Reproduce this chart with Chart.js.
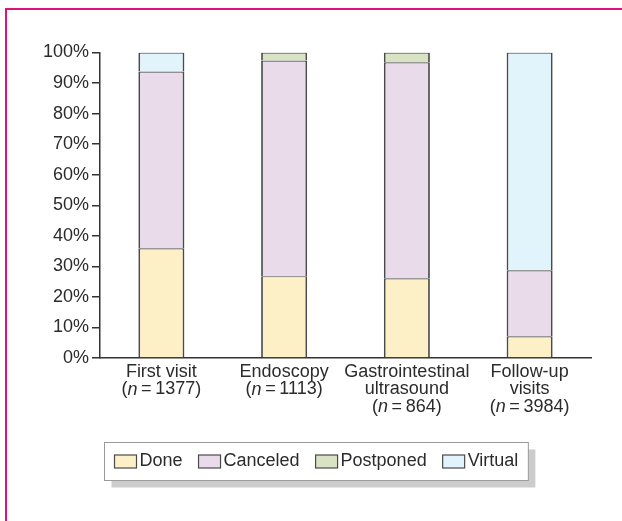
<!DOCTYPE html>
<html>
<head>
<meta charset="utf-8">
<script src="https://cdn.jsdelivr.net/npm/chart.js@4.4.1/dist/chart.umd.min.js"></script>
<style>
  html, body { margin: 0; padding: 0; background: #fff; }
  #frame {
    position: absolute; left: 5px; top: 8px; width: 617px; height: 513px;
    border-left: 2px solid #e0127a; border-top: 2px solid #e0127a; box-sizing: border-box;
  }
  #wrap { position: absolute; left: 0; top: 0; width: 622px; height: 521px; }
</style>
</head>
<body>
<div id="frame"></div>
<div id="wrap"><canvas id="chart"></canvas></div>
<script>
// categories (name lines) and sample sizes shown under each bar
const categories = [['First visit'], ['Endoscopy'], ['Gastrointestinal', 'ultrasound'], ['Follow-up', 'visits']];
const sampleSizes = [1377, 1113, 864, 3984];

// share of appointments, percent
const seriesNames = ['Done', 'Canceled', 'Postponed', 'Virtual'];
const done      = [35.9, 26.8, 26.1, 7.1];
const canceled  = [57.9, 70.6, 70.7, 21.6];
const postponed = [0, 2.6, 3.2, 0];
const virtual   = [6.2, 0, 0, 71.3];

const yMin = 0, yMax = 100, yStep = 10;

const fills = ['#fdefc6', '#e9dbea', '#d7e3c2', '#e1f3fb'];
const ink = '#2b2b2b';
const FONT = '"Liberation Sans", Arial, Helvetica, sans-serif';

Chart.defaults.font.family = FONT;
Chart.defaults.font.size = 18;
Chart.defaults.color = ink;

// category labels with an italic "n"
const xLabels = {
    id: 'xLabels',
    afterDraw(chart) {
        const xs = chart.scales.x;
        const ctx = chart.ctx;
        ctx.save();
        ctx.fillStyle = ink;
        ctx.textBaseline = 'middle';
        ctx.textAlign = 'left';
        categories.forEach((lines, i) => {
            const px = xs.getPixelForValue(i);
            const rows = lines.map(t => [{ t, it: false }]);
            rows.push([{ t: '(', it: false }, { t: 'n', it: true }, { t: '\u2009=\u2009' + sampleSizes[i] + ')', it: false }]);
            rows.forEach((segs, r) => {
                const y = xs.top + 14 + r * 17.5;
                let total = 0;
                segs.forEach(s => {
                    ctx.font = (s.it ? 'italic ' : '') + '18px ' + FONT;
                    s.w = ctx.measureText(s.t).width;
                    total += s.w;
                });
                let x = px - total / 2;
                segs.forEach(s => {
                    ctx.font = (s.it ? 'italic ' : '') + '18px ' + FONT;
                    ctx.fillText(s.t, x, y);
                    x += s.w;
                });
            });
        });
        ctx.restore();
    }
};

// boxed legend with a drop shadow
const boxLegend = {
    id: 'boxLegend',
    afterDraw(chart) {
        const ctx = chart.ctx;
        ctx.save();
        ctx.font = '18px ' + FONT;
        const sw = 22, sh = 13, gapText = 3, gapItem = 16, padX = 10;
        const items = chart.data.datasets.map(ds => ({
            label: ds.label, fill: ds.backgroundColor, w: ctx.measureText(ds.label).width
        }));
        const inner = items.reduce((s, it) => s + sw + gapText + it.w, 0) + gapItem * (items.length - 1);
        const boxW = inner + padX * 2, boxH = 38;
        const left = Math.round(315.5 - boxW / 2) + 0.5, top = 442.5;

        ctx.fillStyle = '#cccccc';
        ctx.fillRect(left + 7, top + 7, boxW, boxH);
        ctx.fillStyle = '#ffffff';
        ctx.fillRect(left, top, boxW, boxH);
        ctx.strokeStyle = '#9a9a9a';
        ctx.lineWidth = 1;
        ctx.strokeRect(left, top, boxW, boxH);

        let x = left + padX;
        const cy = top + boxH / 2;
        items.forEach(it => {
            ctx.fillStyle = it.fill;
            ctx.fillRect(x, cy - sh / 2, sw, sh);
            ctx.strokeStyle = '#4a4a4a';
            ctx.lineWidth = 1.2;
            ctx.strokeRect(x, cy - sh / 2, sw, sh);
            ctx.fillStyle = ink;
            ctx.textBaseline = 'middle';
            ctx.fillText(it.label, x + sw + gapText, cy);
            x += sw + gapText + it.w + gapItem;
        });
        ctx.restore();
    }
};

const seriesData = [done, canceled, postponed, virtual];

new Chart(document.getElementById('chart'), {
    type: 'bar',
    data: {
        labels: categories.map(c => c.join(' ')),
        datasets: seriesNames.map((name, k) => ({
            label: name,
            data: seriesData[k],
            backgroundColor: fills[k],
            borderColor: '#4a4a4a',
            borderWidth: { top: 1.2, left: 1.8, right: 1.8, bottom: 0 },
            borderSkipped: 'start',
            barPercentage: 0.375,
            categoryPercentage: 1
        }))
    },
    options: {
        responsive: true,
        maintainAspectRatio: false,
        animation: false,
        layout: { padding: { top: 52.5, right: 31, bottom: 0, left: 0 } },
        plugins: { legend: { display: false }, tooltip: { enabled: false } },
        scales: {
            x: {
                stacked: true,
                grid: { display: false },
                border: { display: true, color: '#333', width: 1.5 },
                ticks: { display: false },
                afterFit: s => { s.height = 163; }
            },
            y: {
                stacked: true,
                min: yMin,
                max: yMax,
                grid: { drawOnChartArea: false, drawTicks: true, tickLength: 8, color: '#333', lineWidth: 1.5 },
                border: { display: true, color: '#333', width: 1.5 },
                ticks: { stepSize: yStep, padding: 3, color: ink, callback: v => v + '%' },
                afterFit: s => { s.width = 100; }
            }
        }
    },
    plugins: [xLabels, boxLegend]
});
</script>
</body>
</html>
